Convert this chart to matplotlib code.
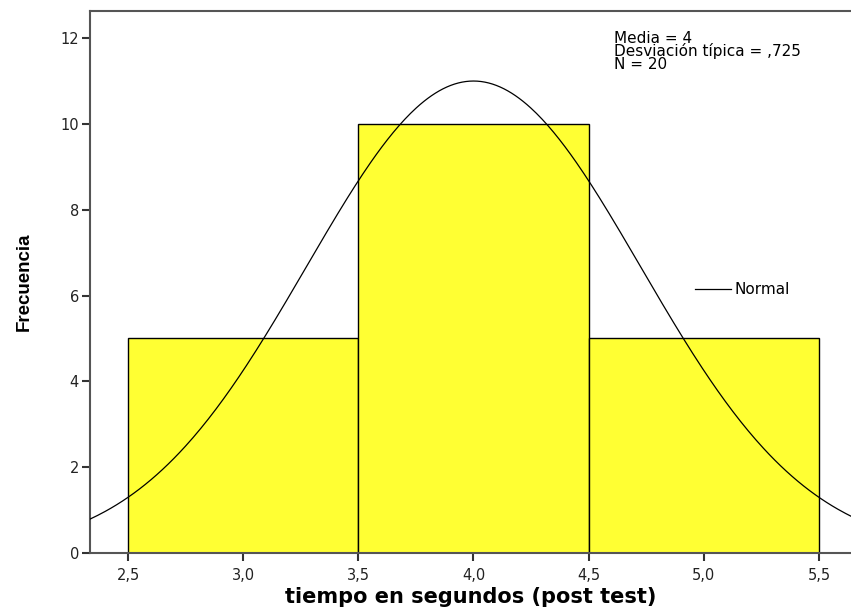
import numpy as np
import matplotlib.pyplot as plt
from matplotlib.ticker import FuncFormatter

# raw observations (tiempo en segundos, post test)
valores = [3] * 5 + [4] * 10 + [5] * 5
bordes = [2.5, 3.5, 4.5, 5.5]
x_ticks = [2.5, 3.0, 3.5, 4.0, 4.5, 5.0, 5.5]
y_ticks = [0, 2, 4, 6, 8, 10, 12]

datos = np.array(valores, dtype=float)
media = datos.mean()
desv = datos.std(ddof=1)
n = len(datos)
ancho = bordes[1] - bordes[0]

plt.rcParams['font.family'] = ['DejaVu Sans']

fig = plt.figure(figsize=(8.51, 6.13), dpi=100)
ax = fig.add_axes([90 / 851, 1 - 553 / 613, 1 - 90 / 851, (553 - 11) / 613])

ax.hist(datos, bins=bordes, color='#ffff33', edgecolor='black', linewidth=1.0, zorder=2)

xs = np.linspace(2.335, 5.64, 400)
ys = n * ancho / (desv * np.sqrt(2 * np.pi)) * np.exp(-0.5 * ((xs - media) / desv) ** 2)
ax.plot(xs, ys, color='black', linewidth=0.9, zorder=3)

ax.set_xlim(2.335, 5.639)
ax.set_ylim(0, 12.63)
ax.set_xticks(x_ticks)
ax.set_yticks(y_ticks)
ax.xaxis.set_major_formatter(FuncFormatter(lambda v, p: f'{v:.1f}'.replace('.', ',')))
ax.tick_params(axis='both', direction='out', length=6, width=1.5, color='#333333',
               labelsize=10.5, labelcolor='#222222', pad=2)
ax.tick_params(axis='x', pad=5)

for lado in ['left', 'bottom', 'top']:
    ax.spines[lado].set_color('#555555')
    ax.spines[lado].set_linewidth(1.5)
ax.spines['right'].set_visible(False)

ax.set_xlabel('tiempo en segundos (post test)', fontsize=15, fontweight='bold', labelpad=3)
ax.set_ylabel('Frecuencia', fontsize=13.5, fontweight='bold',
              family=['Liberation Sans Narrow', 'Liberation Sans'], labelpad=20)

desv_txt = f'{desv:.3f}'.lstrip('0').replace('.', ',')
ax.text(614 / 851, 1 - 31 / 613,
        f'Media = {media:g}\nDesviación típica = {desv_txt}\nN = {n}',
        transform=fig.transFigure, fontsize=11, va='top', ha='left', linespacing=0.8)

# leyenda
ax.plot([695 / 851, 731 / 851], [1 - 289 / 613] * 2, color='black', linewidth=0.9,
        transform=fig.transFigure, clip_on=False)
ax.text(735 / 851, 1 - 290 / 613, 'Normal', transform=fig.transFigure,
        fontsize=11, va='center', ha='left')

fig.savefig('out.png', dpi=100)
